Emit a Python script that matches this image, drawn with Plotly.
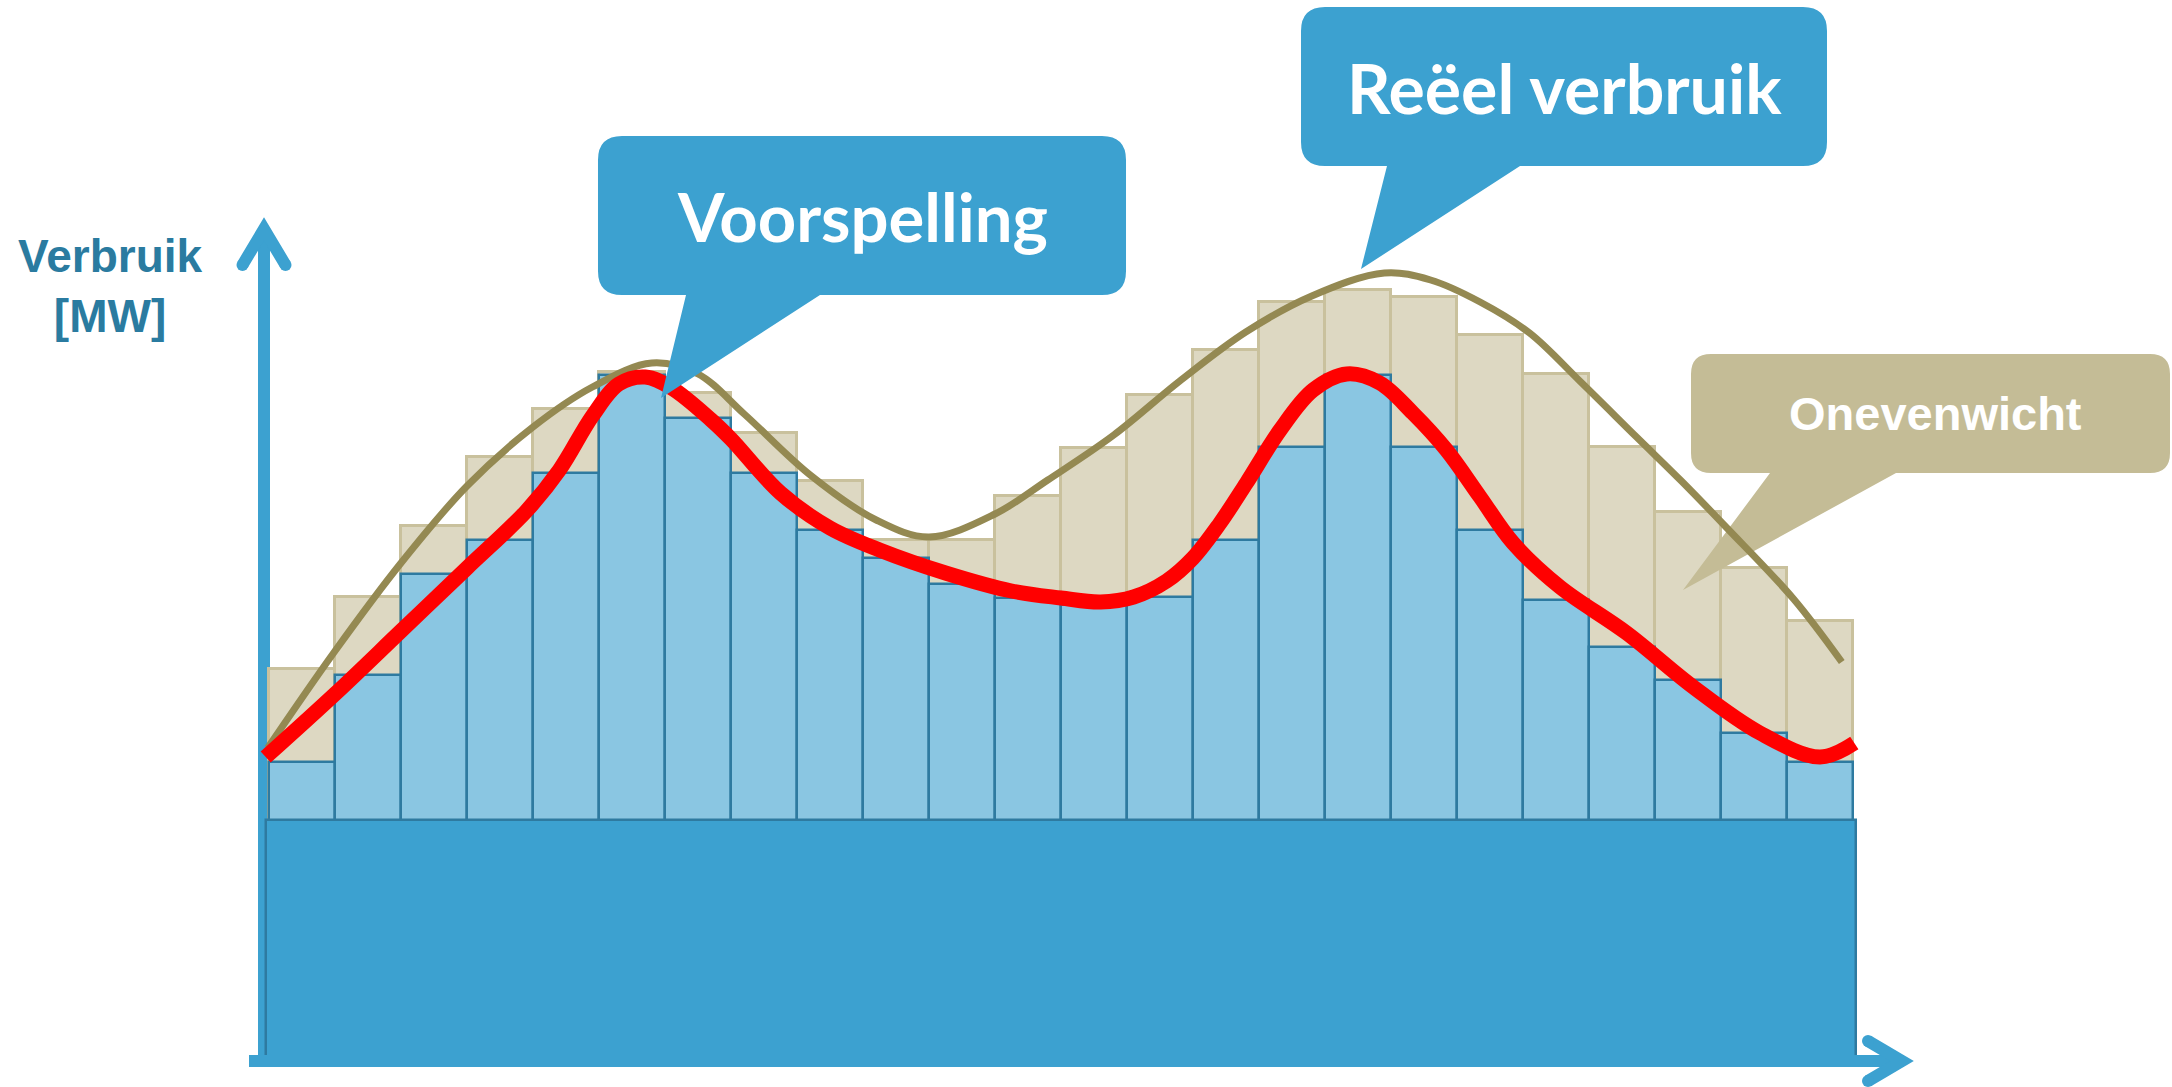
import plotly.graph_objects as go

# ---------------- data ----------------
hour = [0.5, 1.5, 2.5, 3.5, 4.5, 5.5, 6.5, 7.5, 8.5, 9.5, 10.5, 11.5,
        12.5, 13.5, 14.5, 15.5, 16.5, 17.5, 18.5, 19.5, 20.5, 21.5, 22.5, 23.5]
forecast_mw = [299, 386, 487, 521, 588, 686, 643, 588, 531, 503, 477, 463,
               456, 464, 521, 614, 686, 614, 531, 461, 414, 381, 328, 299]
actual_mw = [392, 464, 535, 604, 652, 689, 668, 628, 580, 521, 521, 565,
             613, 666, 711, 759, 771, 764, 726, 687, 614, 549, 493, 440]
base_load_mw = 241
base_center = [12]
base_width = [24.1]

actual_curve_x = [-0.02, 1.0, 2.0, 3.0, 4.0, 4.9, 5.8, 6.5, 7.2, 8.2, 9.2, 10.0,
                  11.0, 11.8, 12.8, 13.8, 14.8, 15.8, 16.9, 17.6, 18.35, 19.1, 19.86,
                  20.72, 21.4, 22.09, 23.1, 23.83]
actual_curve_mw = [313, 410, 498, 575, 634, 674, 698, 687, 647, 586, 541, 524,
                   547, 581, 626, 680, 729, 765, 788, 781, 759, 728, 680,
                   624, 580, 533, 462, 399]

forecast_curve_x = [-0.05, 1.0, 2.0, 3.0, 3.9, 4.4, 4.9, 5.3, 5.7, 6.1, 6.7, 7.0,
                    7.75, 8.5, 9.25, 10.25, 11.25, 12.0, 12.6, 13.1, 13.6, 14.0, 14.4,
                    14.81, 15.32, 15.82, 16.33, 16.83, 17.33, 17.84, 18.35, 18.85,
                    19.56, 20.57, 21.58, 22.59, 23.5, 24.02]
forecast_curve_mw = [304, 367, 430, 493, 550, 591, 645, 677, 684, 673, 641, 622,
                     568, 533, 511, 488, 470, 463, 459, 464, 480, 503, 537,
                     578, 631, 671, 687, 678, 648, 611, 564, 518,
                     474, 428, 374, 328, 304, 318]

# ---------------- colours ----------------
BLUE = "#3CA1D0"
LIGHT_BLUE = "#8AC6E2"
DARK_BLUE = "#2E7AA0"
BEIGE = "#DDD8C2"
BEIGE_LINE = "#C9C19D"
OLIVE = "#948952"
CALLOUT_BEIGE = "#C4BC96"
TEXT_BLUE = "#2A7BA0"

# ---------------- canvas / scale ----------------
W, H = 2172, 1087
X0_PX, PX_PER_H = 269.0, 66.0
Y0_PX, PX_PER_MW = 1061.0, 1.0
x_range = [(0 - X0_PX) / PX_PER_H, (W - X0_PX) / PX_PER_H]
y_range = [(Y0_PX - H) / PX_PER_MW, Y0_PX / PX_PER_MW]


def to_data(px, py):
    return (px - X0_PX) / PX_PER_H, (Y0_PX - py) / PX_PER_MW


def to_paper(px, py):
    return px / W, 1 - py / H


def callout_path(l, t, r, b, rad, tail_l, tail_r, tip, conv):
    def P(x, y):
        a, c = conv(x, y)
        return f"{a:.5f},{c:.5f}"
    return (f"M{P(l + rad, t)} L{P(r - rad, t)} Q{P(r, t)} {P(r, t + rad)} "
            f"L{P(r, b - rad)} Q{P(r, b)} {P(r - rad, b)} L{P(tail_r, b)} "
            f"L{P(tip[0], tip[1])} L{P(tail_l, b)} L{P(l + rad, b)} "
            f"Q{P(l, b)} {P(l, b - rad)} L{P(l, t + rad)} Q{P(l, t)} {P(l + rad, t)} Z")


def polyline(points, conv):
    s = []
    for i, (x, y) in enumerate(points):
        a, c = conv(x, y)
        s.append(("M" if i == 0 else "L") + f"{a:.5f},{c:.5f}")
    return " ".join(s)


fig = go.Figure()

# bars (subplot 1)
fig.add_trace(go.Bar(x=hour, y=actual_mw, width=1, xaxis="x", yaxis="y",
                     marker=dict(color=BEIGE, line=dict(color=BEIGE_LINE, width=3)),
                     hoverinfo="skip"))
fig.add_trace(go.Bar(x=hour, y=forecast_mw, width=1, xaxis="x", yaxis="y",
                     marker=dict(color=LIGHT_BLUE, line=dict(color=DARK_BLUE, width=2.5)),
                     hoverinfo="skip"))
fig.add_trace(go.Bar(x=base_center, y=[base_load_mw], width=base_width, xaxis="x", yaxis="y",
                     marker=dict(color=BLUE, line=dict(color=DARK_BLUE, width=2.5)),
                     hoverinfo="skip"))

# curves (subplot 2, stacked above subplot 1)
fig.add_trace(go.Scatter(x=actual_curve_x, y=actual_curve_mw, mode="lines",
                         xaxis="x2", yaxis="y2",
                         line=dict(color=OLIVE, width=7, shape="spline", smoothing=1.0),
                         hoverinfo="skip"))
fig.add_trace(go.Scatter(x=forecast_curve_x, y=forecast_curve_mw, mode="lines",
                         xaxis="x2", yaxis="y2",
                         line=dict(color="#FF0000", width=15, shape="spline", smoothing=1.0),
                         hoverinfo="skip"))

shapes = []
# vertical axis arrow (below bars)
vx = 264
a = to_paper(vx, 1061); b = to_paper(vx, 229)
shapes.append(dict(type="line", xref="paper", yref="paper", x0=a[0], y0=a[1], x1=b[0], y1=b[1],
                   line=dict(color=BLUE, width=12), layer="below"))
shapes.append(dict(type="path", xref="paper", yref="paper", layer="below",
                   path=polyline([(242.5, 265), (vx, 229), (285.5, 265)], to_paper),
                   line=dict(color=BLUE, width=12), fillcolor="rgba(0,0,0,0)"))
# horizontal axis arrow (above)
a = to_paper(249, 1061); b = to_paper(1902, 1061)
shapes.append(dict(type="line", xref="paper", yref="paper", x0=a[0], y0=a[1], x1=b[0], y1=b[1],
                   line=dict(color=BLUE, width=12), layer="above"))
shapes.append(dict(type="path", xref="paper", yref="paper", layer="above",
                   path=polyline([(1868, 1041), (1902, 1061), (1868, 1081)], to_paper),
                   line=dict(color=BLUE, width=12), fillcolor="rgba(0,0,0,0)"))
for (cx, cy) in [(242.5, 265), (285.5, 265), (1868, 1041), (1868, 1081)]:
    p0 = to_paper(cx - 6, cy - 6); p1 = to_paper(cx + 6, cy + 6)
    shapes.append(dict(type="circle", xref="paper", yref="paper", x0=p0[0], y0=p0[1],
                       x1=p1[0], y1=p1[1], fillcolor=BLUE, line=dict(width=0),
                       layer="above" if cx > 1000 else "below"))

# callouts
shapes.append(dict(type="path", xref="paper", yref="paper", layer="above",
                   path=callout_path(598, 136, 1126, 295, 24, 686, 820, (661, 398), to_paper),
                   fillcolor=BLUE, line=dict(width=0)))
shapes.append(dict(type="path", xref="paper", yref="paper", layer="above",
                   path=callout_path(1301, 7, 1827, 166, 24, 1387, 1520, (1361, 269), to_paper),
                   fillcolor=BLUE, line=dict(width=0)))
shapes.append(dict(type="path", xref="x2", yref="y2", layer="below",
                   path=callout_path(1691, 354, 2170, 473, 20, 1770, 1896, (1683, 590), to_data),
                   fillcolor=CALLOUT_BEIGE, line=dict(width=0)))

annotations = []
p = to_paper(110, 286)
annotations.append(dict(xref="paper", yref="paper", x=p[0], y=p[1], xanchor="center",
                        yanchor="middle", showarrow=False, align="center",
                        text="<b>Verbruik<br>[MW]</b>",
                        font=dict(family="Liberation Sans, Arial", size=46, color=TEXT_BLUE)))
p = to_paper(862, 216)
annotations.append(dict(xref="paper", yref="paper", x=p[0], y=p[1], xanchor="center",
                        yanchor="middle", showarrow=False, text="<b>Voorspelling</b>",
                        font=dict(family="Lato", size=67, color="white")))
p = to_paper(1564, 87)
annotations.append(dict(xref="paper", yref="paper", x=p[0], y=p[1], xanchor="center",
                        yanchor="middle", showarrow=False, text="<b>Reëel verbruik</b>",
                        font=dict(family="Lato", size=68, color="white")))
p = to_paper(1935, 413)
annotations.append(dict(xref="paper", yref="paper", x=p[0], y=p[1], xanchor="center",
                        yanchor="middle", showarrow=False, text="<b>Onevenwicht</b>",
                        font=dict(family="Liberation Sans, Arial", size=47, color="white")))

fig.update_layout(
    width=W, height=H, margin=dict(l=0, r=0, t=0, b=0, pad=0),
    paper_bgcolor="white", plot_bgcolor="rgba(0,0,0,0)",
    showlegend=False, barmode="overlay", bargap=0,
    xaxis=dict(range=x_range, visible=False, domain=[0, 1], anchor="y"),
    yaxis=dict(range=y_range, visible=False, domain=[0, 1], anchor="x"),
    xaxis2=dict(range=x_range, visible=False, domain=[0, 1], anchor="y2"),
    yaxis2=dict(range=y_range, visible=False, domain=[0, 1], anchor="x2"),
    shapes=shapes, annotations=annotations,
)

fig.write_html("out.html", config={"displayModeBar": False},
               post_script="document.body.style.margin='0';document.body.style.overflow='hidden';")
